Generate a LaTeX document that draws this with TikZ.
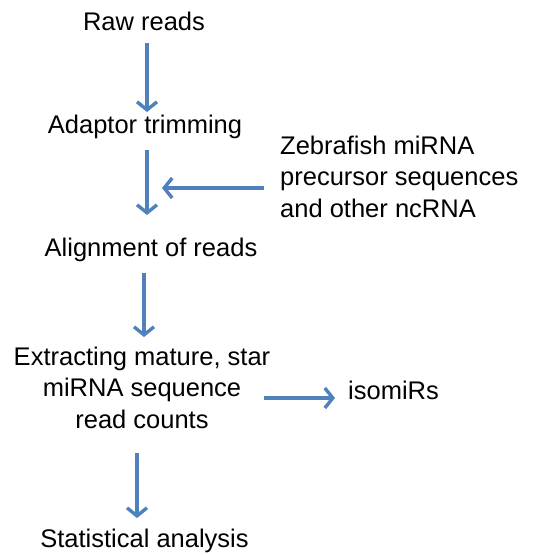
\documentclass[tikz,border=0pt]{standalone}
\usepackage{fontspec}
\setmainfont{Liberation Sans}
\usetikzlibrary{arrows.meta}
\definecolor{arrblue}{RGB}{79,129,189}
\tikzset{
  lbl/.style={inner sep=0pt, anchor=base, align=center, font=\fontsize{25.5}{31.5}\selectfont},
  lbll/.style={lbl, anchor=base west, align=left},
  arr/.style={draw=arrblue, line width=3.4pt, -{Straight Barb[length=8pt,width=20pt,line width=3.4pt]}}
}
\begin{document}
\begin{tikzpicture}[x=1pt,y=-1pt]
\useasboundingbox (0,0) rectangle (550,555);
\node[lbl] (raw) at (144,30) {Raw reads};
\node[lbl] (adapt) at (145,133) {Adaptor trimming};
\node[lbll] (zeb) at (280,217) {Zebrafish miRNA\\precursor sequences\\and other ncRNA};
\node[lbl] (align) at (151,256) {Alignment of reads};
\node[lbl] (extract) at (142,428) {Extracting mature, star\\miRNA sequence\\read counts};
\node[lbll] (iso) at (348,399) {isomiRs};
\node[lbl] (stat) at (144.5,547) {Statistical analysis};
\coordinate (a1s) at (147,43);  \coordinate (a1e) at (147,112);
\coordinate (a2s) at (147,150); \coordinate (a2e) at (147,215);
\coordinate (a3s) at (264,188); \coordinate (a3e) at (162,188);
\coordinate (a4s) at (144,273); \coordinate (a4e) at (144,337);
\coordinate (a5s) at (264,398); \coordinate (a5e) at (335,398);
\coordinate (a6s) at (137,453); \coordinate (a6e) at (137,518);
\draw[arr] (a1s) -- (a1e);
\draw[arr] (a2s) -- (a2e);
\draw[arr] (a3s) -- (a3e);
\draw[arr] (a4s) -- (a4e);
\draw[arr] (a5s) -- (a5e);
\draw[arr] (a6s) -- (a6e);
\end{tikzpicture}
\end{document}
